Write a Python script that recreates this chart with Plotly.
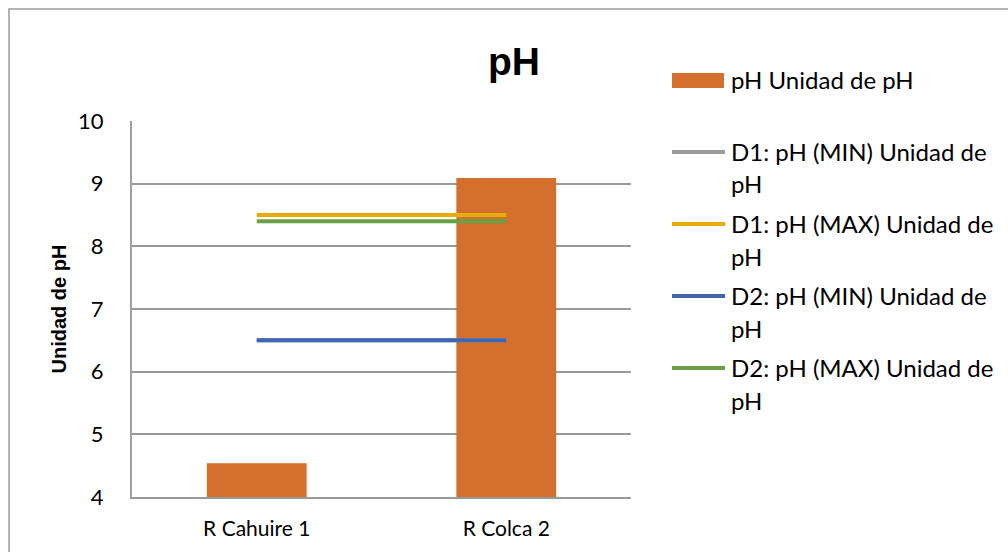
import plotly.graph_objects as go

# Data
categories = ["R Cahuire 1", "R Colca 2"]
ph_values = [4.54, 9.09]
d1_min = [6.5, 6.5]
d1_max = [8.5, 8.5]
d2_min = [6.5, 6.5]
d2_max = [8.4, 8.4]
y_ticks = [4, 5, 6, 7, 8, 9, 10]

bar_name = "pH Unidad de pH"
line_names = [
    "D1: pH (MIN) Unidad de pH",
    "D1: pH (MAX) Unidad de pH",
    "D2: pH (MIN) Unidad de pH",
    "D2: pH (MAX) Unidad de pH",
]

ORANGE = "#D46F2D"
GRAY = "#9C9C9C"
GOLD = "#E6AD00"
BLUE = "#3F67B1"
GREEN = "#68A043"
line_colors = [GRAY, GOLD, BLUE, GREEN]
line_series = [d1_min, d1_max, d2_min, d2_max]

W, H = 1008, 552
L, R, T, B = 132, 631, 121, 497  # plot area in pixels


def px(x):
    return (x - L) / (R - L)


def py(y):
    return (B - y) / (B - T)


FONT = "Lato"
TXT = "#000000"

fig = go.Figure()
fig.add_trace(go.Bar(x=categories, y=ph_values, name=bar_name,
                     marker=dict(color=ORANGE, line=dict(width=0)),
                     width=0.4, showlegend=False))
for name, vals, col in zip(line_names, line_series, line_colors):
    fig.add_trace(go.Scatter(x=categories, y=vals, name=name, mode="lines",
                             line=dict(color=col, width=4),
                             showlegend=False))

shapes = []
annotations = []

# Outer chart border
shapes.append(dict(type="rect", xref="paper", yref="paper",
                   x0=px(9), x1=px(1030), y0=py(9), y1=py(580),
                   line=dict(color="#9A9A9A", width=1.5), layer="below"))

# Legend (swatches + wrapped labels)
LEG_SIZE = 24
shapes.append(dict(type="rect", xref="paper", yref="paper",
                   x0=px(672), x1=px(724), y0=py(73), y1=py(88),
                   fillcolor=ORANGE, line=dict(width=0)))
annotations.append(dict(xref="paper", yref="paper", x=px(729), y=py(79),
                        xanchor="left", yanchor="middle", showarrow=False,
                        text=bar_name, font=dict(family=FONT, size=LEG_SIZE, color=TXT)))
legend_rows = [152, 224, 296, 368]
for name, col, yrow in zip(line_names, line_colors, legend_rows):
    shapes.append(dict(type="line", xref="paper", yref="paper",
                       x0=px(672), x1=px(725), y0=py(yrow), y1=py(yrow),
                       line=dict(color=col, width=4)))
    first, second = name.rsplit(" ", 1)
    annotations.append(dict(xref="paper", yref="paper", x=px(729), y=py(yrow - 1),
                            xanchor="left", yanchor="middle", showarrow=False,
                            text=first, font=dict(family=FONT, size=LEG_SIZE, color=TXT)))
    annotations.append(dict(xref="paper", yref="paper", x=px(729), y=py(yrow + 32),
                            xanchor="left", yanchor="middle", showarrow=False,
                            text=second, font=dict(family=FONT, size=LEG_SIZE, color=TXT)))

fig.update_layout(
    width=W, height=H,
    margin=dict(l=L, r=W - R, t=T, b=H - B, pad=0, autoexpand=False),
    paper_bgcolor="white", plot_bgcolor="white",
    showlegend=False,
    title=dict(text="<b>pH</b>", xref="container", yref="container",
               x=514 / W, xanchor="center",
               y=1 - 61 / H, yanchor="middle", automargin=False,
               font=dict(family="Liberation Sans", size=39, color=TXT)),
    shapes=shapes, annotations=annotations,
    bargap=0.6,
)
fig.update_xaxes(showgrid=False, showline=True, linecolor="#999999", linewidth=1.5,
                 zeroline=False, ticks="", ticklabelstandoff=12, automargin=False,
                 tickfont=dict(family=FONT, size=21, color=TXT))
fig.update_yaxes(range=[4, 10], tickvals=y_ticks, showgrid=True,
                 gridcolor="#999999", gridwidth=1.5, automargin=False,
                 showline=True, linecolor="#A0A0A0", linewidth=2,
                 zeroline=False, ticks="", ticklabelstandoff=22,
                 tickfont=dict(family=FONT, size=22, color=TXT),
                 title=dict(text="<b>Unidad de pH</b>", standoff=6,
                            font=dict(family="Liberation Sans", size=20, color=TXT)))

fig.write_html("out.html")
